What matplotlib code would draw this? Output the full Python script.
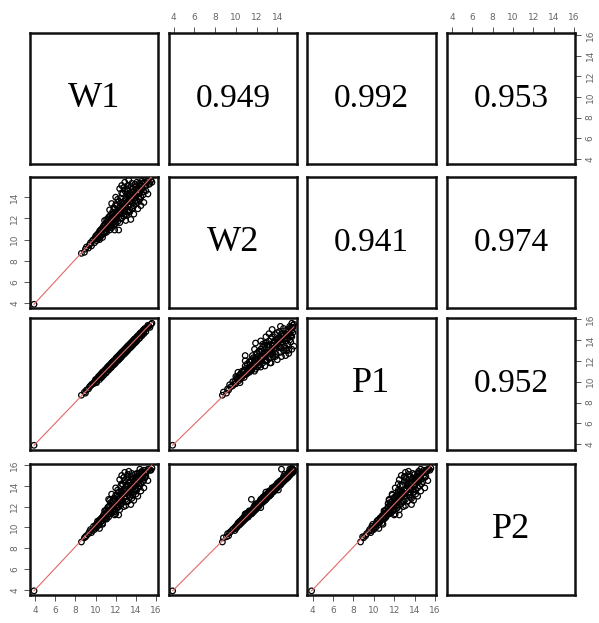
import numpy as np
import matplotlib
matplotlib.use("Agg")
import matplotlib.pyplot as plt

names = ["W1", "W2", "P1", "P2"]
corr_labels = {(0, 1): "0.949", (0, 2): "0.992", (0, 3): "0.953",
               (1, 2): "0.941", (1, 3): "0.974", (2, 3): "0.952"}

W1 = [3.9, 8.6, 8.9, 9.1, 9.3, 9.5, 9.6, 9.8, 9.9, 10.0, 10.1, 10.2, 10.3, 10.4, 10.5, 10.6, 10.7, 10.8, 10.9, 11.0,
      11.0, 11.1, 11.2, 11.3, 11.3, 11.4, 11.5, 11.5, 11.6, 11.7, 11.7, 11.8, 11.9, 11.9, 12.0, 12.1, 12.1, 12.2, 12.3, 12.3,
      12.4, 12.5, 12.5, 12.6, 12.7, 12.7, 12.8, 12.9, 12.9, 13.0, 13.1, 13.1, 13.2, 13.3, 13.3, 13.4, 13.5, 13.5, 13.6, 13.7,
      13.7, 13.8, 13.9, 13.9, 14.0, 14.1, 14.1, 14.2, 14.3, 14.3, 14.4, 14.5, 14.6, 14.7, 14.8, 14.9, 15.0, 15.1, 15.3, 15.5,
      15.6, 12.0, 12.6, 13.3, 13.8, 14.5, 11.4, 11.9, 10.9, 10.4, 9.7, 10.2, 10.6, 11.2, 11.6, 12.2, 12.8, 13.4, 14.0, 14.6,
      12.4, 13.0, 14.2, 15.2,
      10.0, 10.1, 10.3, 10.4, 10.5, 10.6, 10.7, 10.8, 10.9, 11.0, 11.1, 11.1, 11.2, 11.3, 11.4, 11.5, 11.6, 11.6, 11.7, 11.8,
      11.8, 11.9, 12.0, 12.0, 12.1, 12.2, 12.2, 12.3, 12.4, 12.4, 12.5, 12.5, 12.6, 12.6, 12.7, 12.8, 12.8, 12.9, 13.0, 13.0,
      13.1, 13.1, 13.2, 13.2, 13.3, 13.4, 13.4, 13.5, 13.6, 13.6, 13.7, 13.7, 13.8, 13.9, 13.9, 14.0, 14.1, 14.1, 14.2, 14.3,
      14.4, 14.4, 14.5, 14.6, 14.7, 14.8, 14.9, 15.0, 15.2, 15.4, 12.3, 13.5, 12.9, 11.6, 14.8, 10.7, 9.4, 9.0, 13.2, 12.6,
      13.9, 12.1, 14.4, 11.3]
W2 = [3.9, 8.7, 8.8, 9.3, 9.2, 9.7, 9.4, 10.0, 9.7, 10.3, 9.9, 10.5, 10.1, 10.8, 10.3, 11.0, 10.5, 11.3, 10.6, 11.5,
      10.8, 11.9, 11.0, 12.1, 11.2, 10.9, 12.3, 11.6, 11.1, 12.6, 11.8, 11.3, 12.9, 12.0, 11.5, 13.2, 12.3, 11.7, 13.6, 12.5,
      11.6, 13.9, 12.8, 12.0, 14.3, 13.0, 12.2, 14.6, 13.2, 12.4, 14.8, 13.5, 12.6, 14.1, 13.7, 12.8, 15.0, 13.9, 12.9, 14.5,
      14.0, 13.2, 15.2, 14.2, 13.4, 14.8, 14.4, 13.5, 15.3, 14.6, 13.8, 15.1, 14.9, 14.2, 15.4, 15.0, 14.6, 15.5, 15.2, 15.6,
      15.4, 14.0, 15.1, 15.6, 12.4, 13.2, 12.8, 10.9, 11.8, 10.0, 9.9, 10.2, 10.7, 11.4, 11.9, 12.6, 13.4, 13.6, 14.7, 15.5,
      14.8, 11.8, 12.9, 14.3,
      10.1, 10.4, 10.6, 10.2, 10.9, 10.4, 11.1, 10.7, 11.4, 11.1, 11.6, 10.7, 11.8, 11.5, 12.2, 11.3, 12.0, 12.4, 11.5, 12.2,
      13.0, 11.7, 12.5, 13.3, 11.9, 12.8, 13.8, 12.1, 13.1, 12.4, 13.5, 12.0, 13.3, 14.4, 12.5, 13.6, 14.9, 12.7, 13.8, 13.1,
      14.3, 12.3, 13.9, 15.1, 13.2, 14.4, 12.6, 14.2, 15.3, 13.5, 14.8, 13.0, 14.3, 13.6, 15.0, 14.1, 15.4, 13.7, 14.6, 14.0,
      15.2, 14.5, 14.0, 15.3, 14.8, 14.5, 15.4, 15.1, 15.5, 15.3, 10.9, 11.9, 15.4, 13.4, 13.5, 10.2, 9.5, 9.1, 14.7, 12.9,
      14.1, 12.4, 14.4, 11.5]
P1 = [3.9, 8.7, 9.0, 9.2, 9.3, 9.6, 9.7, 9.8, 10.0, 10.1, 10.0, 10.3, 10.4, 10.4, 10.6, 10.7, 10.8, 10.9, 11.0, 11.1,
      11.1, 11.2, 11.3, 11.4, 11.2, 11.5, 11.6, 11.4, 11.7, 11.8, 11.8, 11.9, 12.0, 12.0, 12.1, 12.2, 12.0, 12.3, 12.4, 12.4,
      12.5, 12.6, 12.4, 12.7, 12.8, 12.8, 12.9, 13.0, 13.0, 13.1, 13.2, 13.0, 13.3, 13.4, 13.2, 13.5, 13.6, 13.6, 13.7, 13.8,
      13.6, 13.9, 14.0, 14.0, 14.1, 14.2, 14.0, 14.3, 14.4, 14.4, 14.5, 14.6, 14.5, 14.8, 14.9, 15.0, 15.1, 15.2, 15.3, 15.5,
      15.6, 12.1, 12.7, 13.4, 13.9, 14.6, 11.5, 12.0, 11.0, 10.5, 9.8, 10.3, 10.6, 11.3, 11.7, 12.3, 12.9, 13.5, 14.1, 14.7,
      12.5, 13.1, 14.3, 15.3,
      10.2, 9.9, 10.5, 10.2, 10.7, 10.4, 10.9, 10.6, 11.1, 10.8, 11.3, 10.9, 11.4, 11.1, 11.6, 11.3, 11.8, 11.4, 11.9, 11.6,
      12.0, 11.7, 12.2, 11.8, 12.3, 12.0, 12.4, 12.1, 12.6, 12.2, 12.7, 12.3, 12.8, 12.4, 12.9, 12.6, 13.0, 12.7, 13.2, 12.8,
      13.3, 12.9, 13.4, 13.0, 13.5, 13.2, 13.6, 13.3, 13.8, 13.4, 13.9, 13.5, 14.0, 13.7, 14.1, 13.8, 14.3, 13.9, 14.4, 14.1,
      14.6, 14.2, 14.7, 14.4, 14.9, 14.6, 15.1, 14.8, 15.4, 15.2, 12.5, 13.7, 13.1, 11.8, 15.0, 10.9, 9.5, 8.9, 13.4, 12.8,
      14.1, 12.3, 14.6, 11.5]
P2 = [3.9, 8.6, 9.0, 9.2, 9.4, 9.8, 9.5, 10.1, 9.8, 10.2, 10.0, 10.6, 10.2, 10.7, 10.5, 10.9, 10.4, 11.2, 10.8, 11.6,
      10.9, 11.7, 11.2, 12.0, 11.0, 11.3, 12.4, 11.5, 11.4, 12.5, 12.0, 11.6, 12.7, 11.8, 11.3, 13.0, 12.2, 11.9, 13.4, 12.7,
      11.7, 14.0, 12.6, 12.3, 14.1, 13.2, 12.0, 14.5, 13.0, 12.7, 14.7, 13.6, 12.5, 14.3, 13.5, 13.1, 14.9, 13.8, 12.8, 14.6,
      14.2, 13.4, 15.1, 14.0, 13.2, 14.9, 14.5, 13.8, 15.2, 14.4, 14.0, 15.3, 14.7, 14.4, 15.5, 14.8, 14.9, 15.4, 15.6, 15.5,
      15.7, 13.8, 15.0, 15.4, 12.6, 13.5, 12.6, 11.2, 11.6, 9.9, 9.7, 10.4, 10.6, 11.5, 11.8, 12.4, 13.3, 13.7, 14.6, 15.3,
      14.6, 12.1, 13.0, 14.5,
      10.0, 10.3, 10.5, 10.3, 10.8, 10.6, 11.0, 10.9, 11.3, 11.1, 11.4, 10.8, 11.9, 11.3, 12.1, 11.5, 11.9, 12.3, 11.6, 12.2,
      12.8, 11.5, 12.6, 13.1, 12.1, 12.9, 13.6, 12.0, 13.0, 12.5, 13.4, 12.2, 13.1, 14.2, 12.6, 13.5, 14.8, 12.9, 13.7, 13.3,
      14.1, 12.5, 14.0, 14.9, 13.3, 14.3, 12.9, 14.1, 15.2, 13.4, 14.7, 13.1, 14.4, 13.7, 14.8, 14.3, 15.2, 13.6, 14.7, 14.2,
      15.0, 14.6, 14.2, 15.4, 15.0, 14.6, 15.3, 15.2, 15.6, 15.5, 11.2, 12.2, 15.3, 13.2, 13.8, 10.3, 9.6, 9.1, 15.1, 13.4,
      13.6, 11.9, 15.6, 12.7]

data = [np.array(W1), np.array(W2), np.array(P1), np.array(P2)]
limits = [(3.5, 16.2), (3.55, 15.9), (3.45, 16.1), (3.5, 16.1)]
ticks = [4, 6, 8, 10, 12, 14, 16]

fig = plt.figure(figsize=(5.99, 6.23), dpi=100)
W, H = 599.0, 623.0
cols = [(30, 158), (169, 297), (307, 436), (447, 575)]
rows = [(33, 164), (177, 308), (318, 450), (464, 595)]

tick_color = "#555555"
for i in range(4):
    for j in range(4):
        x0, x1 = cols[j]
        y0, y1 = rows[i]
        ax = fig.add_axes([x0 / W, 1 - y1 / H, (x1 - x0) / W, (y1 - y0) / H])
        ax.set_xlim(*limits[j])
        ax.set_ylim(*limits[i])
        for s in ax.spines.values():
            s.set_linewidth(1.8)
            s.set_color("#111111")
        ax.set_xticks([t for t in ticks if limits[j][0] <= t <= limits[j][1]])
        ax.set_yticks([t for t in ticks if limits[i][0] <= t <= limits[i][1]])
        ax.tick_params(labelsize=6.5, labelcolor="#666666", color=tick_color,
                       length=4.3, width=0.7, pad=3.5,
                       bottom=False, top=False, left=False, right=False,
                       labelbottom=False, labeltop=False, labelleft=False, labelright=False)
        if i == 0 and j % 2 == 1:
            ax.tick_params(top=True, labeltop=True)
        if i == 3 and j % 2 == 0:
            ax.tick_params(bottom=True, labelbottom=True)
        if j == 0 and i % 2 == 1:
            ax.tick_params(left=True, labelleft=True)
            for lab in ax.get_yticklabels():
                lab.set_rotation(90)
                lab.set_va("center")
        if j == 3 and i % 2 == 0:
            ax.tick_params(right=True, labelright=True)
            for lab in ax.get_yticklabels():
                lab.set_rotation(90)
                lab.set_va("center")
        if i == j:
            ax.text(0.5, 0.5, names[i], transform=ax.transAxes, ha="center", va="center",
                    fontsize=26, family="Liberation Serif")
        elif i < j:
            ax.text(0.5, 0.5, corr_labels[(i, j)], transform=ax.transAxes, ha="center", va="center",
                    fontsize=24, family="Liberation Serif")
        else:
            xv, yv = data[j], data[i]
            ax.scatter(xv, yv, s=16, facecolors="none", edgecolors="#000000", linewidths=0.9, zorder=2)
            # smooth line anchored at the lowest point, slope by least squares
            k0 = int(np.argmin(xv))
            xa, ya = xv[k0], yv[k0]
            slope = np.sum((xv - xa) * (yv - ya)) / np.sum((xv - xa) ** 2)
            xs = np.array([xa, xv.max()])
            ax.plot(xs, ya + slope * (xs - xa), color="#e06868", lw=0.8, zorder=3)

fig.savefig("out.png", dpi=100)
